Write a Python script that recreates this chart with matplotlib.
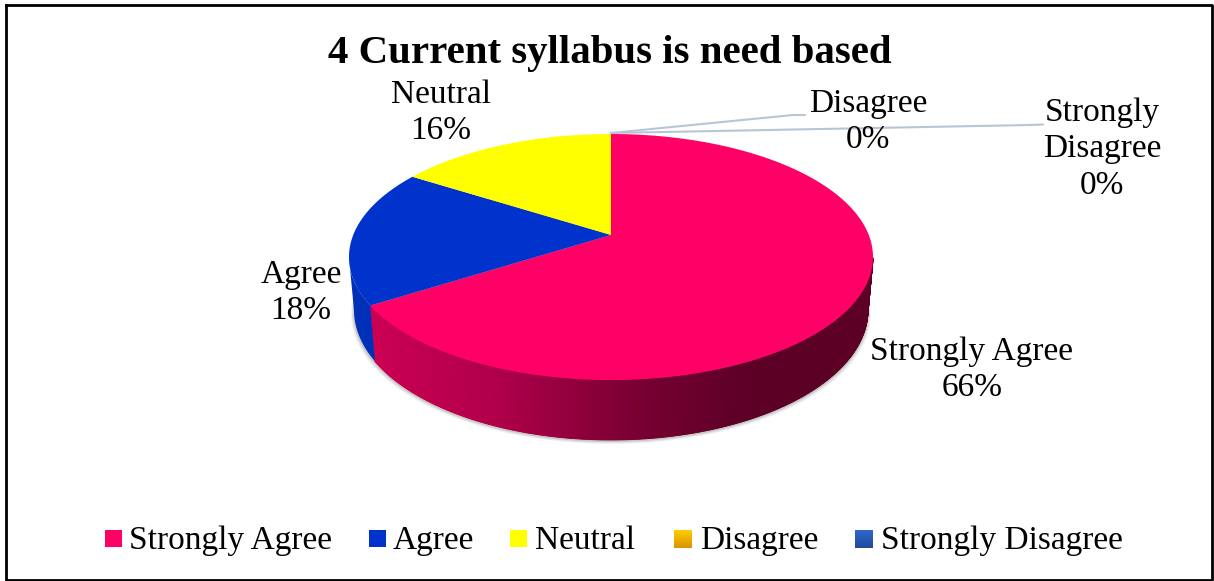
import numpy as np
import matplotlib
matplotlib.use("Agg")
import matplotlib.pyplot as plt
from matplotlib.colors import LinearSegmentedColormap

title = "4 Current syllabus is need based"
categories = ["Strongly Agree", "Agree", "Neutral", "Disagree", "Strongly Disagree"]
shares = [66, 18, 16, 0, 0]
slice_colors = ["#FF0066", "#0033CC", "#FFFF00", "#F0B400", "#2A5CC0"]

#pie geometry in picture pixels
cx, cy, rx, ry = 611, 257, 262, 123
bx, by, brx, bry = 611, 310, 257, 130
tilt = 0.179  #apex sits above the ellipse center because of the perspective

plt.rcParams['font.family'] = ['Liberation Serif', 'DejaVu Serif']
fig = plt.figure(figsize=(12.14, 5.81), dpi=100)
ax = fig.add_axes([0, 0, 1, 1])


def project(angle):
    #turn a pie angle (deg, clockwise from the top) into points on the unit ellipse
    a = np.radians(90 - np.asarray(angle, dtype=float))
    X = np.cos(a)
    Y = np.sin(a)
    d = 1 + tilt * Y
    return X * np.sqrt(1 - tilt ** 2) / d, (Y + tilt) / d


rim_pink = LinearSegmentedColormap.from_list("rim", ["#CC0054", "#B0004A", "#7D0034", "#5C0026", "#5C0026"])

#soft shadow under the pie
tt = np.linspace(0, 2 * np.pi, 300)
for off, alpha in [(4, 0.10), (3, 0.15), (2, 0.25)]:
    ax.fill(bx + (brx + off - 1) * np.cos(tt), by + off + bry * np.sin(tt), color="#808080", alpha=alpha, lw=0)

edges = np.cumsum([0] + shares) * 3.6

#side of the pie, only the lower half can be seen
for i in range(len(shares)):
    if shares[i] == 0:
        continue
    ang = np.linspace(edges[i], edges[i + 1], int(shares[i] * 8) + 2)
    u, v = project(ang)
    low = v <= 0
    if not low.any():
        continue
    #solid base first so the thin strips leave no gaps
    base = "#5C0026" if i == 0 else "#002FB8"
    ax.fill(np.r_[cx + rx * u[low], (bx + brx * u[low])[::-1]],
            np.r_[cy - ry * v[low], (by - bry * v[low])[::-1]], color=base, lw=0)
    for k in range(len(ang) - 1):
        if not (low[k] and low[k + 1]) or i != 0:
            continue
        x1 = cx + rx * u[k:k + 2]
        y1 = cy - ry * v[k:k + 2]
        x2 = bx + brx * u[k:k + 2]
        y2 = by - bry * v[k:k + 2]
        f = (x1.mean() - 373) / 500
        col = rim_pink(np.clip(f, 0, 1))
        ax.fill(np.r_[x1, x2[::-1]], np.r_[y1, y2[::-1]], color=col, lw=0.6)

#top of the pie
for i in range(len(shares)):
    if shares[i] == 0:
        continue
    ang = np.linspace(edges[i], edges[i + 1], 200)
    u, v = project(ang)
    ax.fill(np.r_[cx, cx + rx * u], np.r_[cy - ry * tilt, cy - ry * v], color=slice_colors[i], lw=0)

#leader lines for the empty slices
ax.plot([611, 793, 805], [133, 115, 115], color="#B8C5D6", lw=1.5, solid_capstyle="round")
ax.plot([611, 1030, 1043], [133, 125, 124.5], color="#B8C5D6", lw=1.5, solid_capstyle="round")

fs = 24
labels = [
    ("Strongly Agree\n66%", 972, 370),
    ("Agree\n18%", 301, 292.5),
    ("Neutral\n16%", 441, 112.5),
    ("Disagree\n0%", 868, 122),
    ("Strongly\nDisagree\n0%", 1102, 149),
]
for txt, x, y in labels:
    ax.text(x, y, txt, ha="center", va="center", fontsize=fs, linespacing=1.25, color="#000000")

ax.text(610, 53, title, ha="center", va="center", fontsize=29.4, fontweight="bold", color="#000000")

#legend row
marker_x = [105, 369, 510, 674, 855]
text_x = [129, 393, 535, 700, 881]
for i in range(len(categories)):
    if i < 3:
        ax.fill([marker_x[i], marker_x[i] + 17, marker_x[i] + 17, marker_x[i]],
                [530, 530, 547, 547], color=slice_colors[i], lw=0)
    else:
        top_col = ["#FFCC00", "#2E66D0"][i - 3]
        bot_col = ["#D99400", "#1F4A96"][i - 3]
        grad = LinearSegmentedColormap.from_list("g", [top_col, bot_col])
        ax.imshow(np.linspace(0, 1, 18).reshape(-1, 1), cmap=grad, aspect="auto",
                  extent=[marker_x[i], marker_x[i] + 18, 548, 530], zorder=2)
    ax.text(text_x[i], 541, categories[i], ha="left", va="center", fontsize=fs, color="#000000")

#outer border
ax.plot([6, 1212, 1212, 6, 6], [5, 5, 580, 580, 5], color="#000000", lw=2)

ax.set_xlim(0, 1214)
ax.set_ylim(581, 0)
ax.axis("off")
fig.savefig("out.png", dpi=100)
